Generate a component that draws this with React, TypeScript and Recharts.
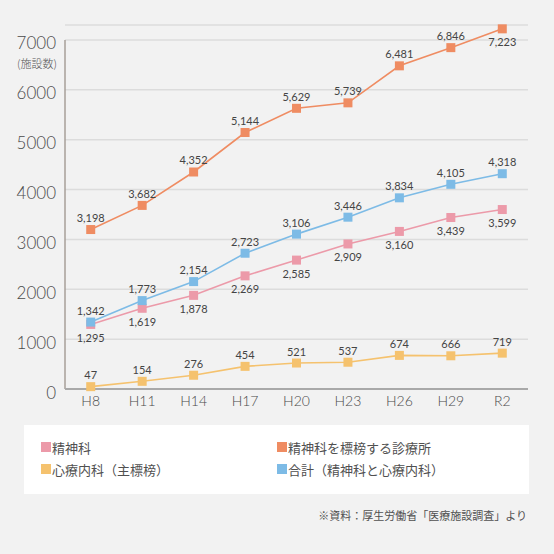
import React from "react";
import {
  LineChart,
  Line,
  XAxis,
  YAxis,
  CartesianGrid,
  LabelList,
  ReferenceLine,
} from "recharts";

const categories = ["H8", "H11", "H14", "H17", "H20", "H23", "H26", "H29", "R2"];
const psychiatry = [1295, 1619, 1878, 2269, 2585, 2909, 3160, 3439, 3599];
const clinics = [3198, 3682, 4352, 5144, 5629, 5739, 6481, 6846, 7223];
const psychosomatic = [47, 154, 276, 454, 521, 537, 674, 666, 719];
const total = [1342, 1773, 2154, 2723, 3106, 3446, 3834, 4105, 4318];
const yTicks = [0, 1000, 2000, 3000, 4000, 5000, 6000, 7000];

const COLORS = {
  psychiatry: "#ec9aa9",
  clinics: "#ef8c62",
  psychosomatic: "#f5c26e",
  total: "#7dbbe6",
};

const data = categories.map((c, i) => ({
  i,
  cat: c,
  psychiatry: psychiatry[i],
  clinics: clinics[i],
  psychosomatic: psychosomatic[i],
  total: total[i],
}));

const LATO = "Lato, 'Noto Sans', sans-serif";
const CJK = "'Noto Sans CJK JP', 'Noto Sans', sans-serif";

const squareDot = (color: string) => (p: any) => {
  const { cx, cy, index } = p;
  if (cx == null || cy == null) return <g key={index} />;
  return (
    <rect key={index} x={cx - 4.5} y={cy - 4.5} width={9} height={9} fill={color} />
  );
};

const makeLabel = (belowFn: (i: number) => boolean) => (p: any) => {
  const x = p.x ?? p.viewBox?.x;
  const y = p.y ?? p.viewBox?.y;
  const below = belowFn(p.index);
  return (
    <text
      key={p.index}
      x={x}
      y={below ? y + 13 : y - 12}
      textAnchor="middle"
      dominantBaseline="central"
      fontSize={11}
      fill="#444"
      fontFamily={LATO}
    >
      {Number(p.value).toLocaleString("en-US")}
    </text>
  );
};

const YTick = (p: any) => (
  <text
    x={p.x}
    y={p.y + 3}
    textAnchor="end"
    dominantBaseline="central"
    fontSize={17}
    fontWeight={300}
    fill="#4a4a4a"
    fontFamily={LATO}
  >
    {p.payload.value}
  </text>
);

const XTick = (p: any) => (
  <text
    x={p.x}
    y={p.y + 5}
    textAnchor="middle"
    dominantBaseline="central"
    fontSize={14}
    fontWeight={300}
    fill="#4a4a4a"
    fontFamily={LATO}
  >
    {categories[p.payload.value]}
  </text>
);

const legendItems = [
  { name: "精神科", color: COLORS.psychiatry },
  { name: "精神科を標榜する診療所", color: COLORS.clinics },
  { name: "心療内科（主標榜）", color: COLORS.psychosomatic },
  { name: "合計（精神科と心療内科）", color: COLORS.total },
];

export default function App() {
  const last = categories.length - 1;
  return (
    <div
      style={{
        position: "absolute",
        left: 0,
        top: 0,
        width: 554,
        height: 554,
        background: "#f2f2f2",
        overflow: "hidden",
      }}
    >
      <div style={{ position: "absolute", left: 0, top: 0 }}>
        <LineChart
          width={554}
          height={554}
          data={data}
          margin={{ top: 25, right: 26, left: 0, bottom: 135 }}
        >
          <CartesianGrid vertical={false} stroke="#dcdcdc" strokeWidth={1.5} />
          <XAxis
            dataKey="i"
            type="number"
            domain={[-0.5, categories.length - 0.5]}
            ticks={categories.map((_, i) => i)}
            height={30}
            tickSize={0}
            tickMargin={6}
            tickLine={false}
            axisLine={{ stroke: "#a9a9a9", strokeWidth: 2 }}
            tick={<XTick />}
            interval={0}
          />
          <YAxis
            width={65}
            domain={[0, 7300]}
            ticks={yTicks}
            tickSize={0}
            tickMargin={9}
            tickLine={false}
            axisLine={false}
            tick={<YTick />}
            interval={0}
          />
          <ReferenceLine
            segment={[
              { x: -0.5, y: 0 },
              { x: -0.5, y: 7000 },
            ]}
            stroke="#a79f98"
            strokeWidth={1.5}
            ifOverflow="visible"
          />
          <Line
            dataKey="psychosomatic"
            stroke={COLORS.psychosomatic}
            strokeWidth={1.6}
            dot={squareDot(COLORS.psychosomatic)}
            activeDot={false}
            isAnimationActive={false}
          >
            <LabelList dataKey="psychosomatic" content={makeLabel(() => false)} />
          </Line>
          <Line
            dataKey="psychiatry"
            stroke={COLORS.psychiatry}
            strokeWidth={1.6}
            dot={squareDot(COLORS.psychiatry)}
            activeDot={false}
            isAnimationActive={false}
          >
            <LabelList dataKey="psychiatry" content={makeLabel(() => true)} />
          </Line>
          <Line
            dataKey="total"
            stroke={COLORS.total}
            strokeWidth={1.6}
            dot={squareDot(COLORS.total)}
            activeDot={false}
            isAnimationActive={false}
          >
            <LabelList dataKey="total" content={makeLabel(() => false)} />
          </Line>
          <Line
            dataKey="clinics"
            stroke={COLORS.clinics}
            strokeWidth={1.6}
            dot={squareDot(COLORS.clinics)}
            activeDot={false}
            isAnimationActive={false}
          >
            <LabelList dataKey="clinics" content={makeLabel((i) => i === last)} />
          </Line>
        </LineChart>
      </div>
      <div
        style={{
          position: "absolute",
          left: 16,
          top: 56,
          width: 42,
          textAlign: "center",
          fontFamily: CJK,
          fontSize: 11,
          fontWeight: 300,
          lineHeight: "14px",
          color: "#555",
        }}
      >
        (施設数)
      </div>
      <div
        style={{
          position: "absolute",
          left: 24,
          top: 425,
          width: 505,
          height: 69,
          background: "#ffffff",
        }}
      >
        {legendItems.map((it, k) => (
          <div
            key={it.name}
            style={{
              position: "absolute",
              left: k % 2 === 0 ? 17 : 253,
              top: k < 2 ? 13 : 35,
              height: 18,
              display: "flex",
              alignItems: "center",
              fontFamily: CJK,
              fontSize: 13,
              color: "#505050",
              whiteSpace: "nowrap",
            }}
          >
            <span
              style={{
                display: "inline-block",
                width: 10,
                height: 10,
                background: it.color,
                marginRight: 1,
              }}
            />
            {it.name}
          </div>
        ))}
      </div>
      <div
        style={{
          position: "absolute",
          right: 27,
          top: 507,
          fontFamily: CJK,
          fontSize: 11,
          lineHeight: "16px",
          color: "#505050",
          whiteSpace: "nowrap",
        }}
      >
        ※資料：厚生労働省「医療施設調査」より
      </div>
    </div>
  );
}
